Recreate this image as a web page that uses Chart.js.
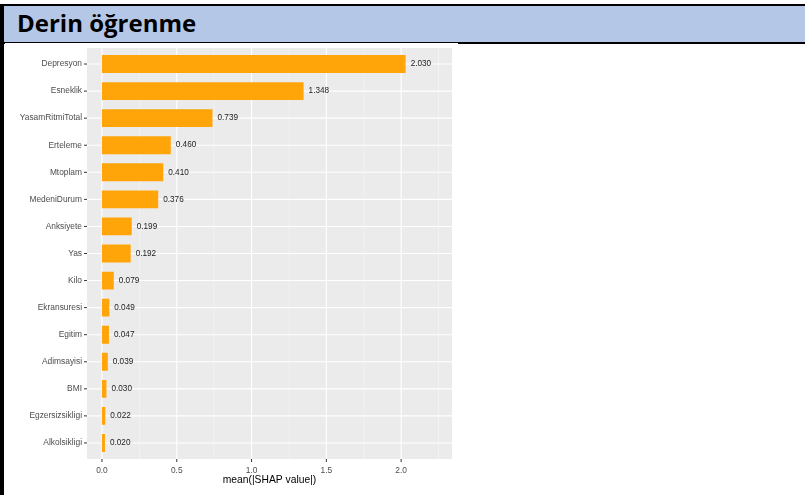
<!DOCTYPE html>
<html>
<head>
<meta charset="utf-8">
<script src="https://cdn.jsdelivr.net/npm/chart.js@4.4.1/dist/chart.umd.min.js"></script>
<style>
    body { margin: 0; background: #fff; width: 805px; height: 495px; overflow: hidden; position: relative; }
    #header {
        position: absolute; left: 0; top: 4px; width: 801px; height: 36px;
        background: #B4C7E7; border-top: 2px solid #000; border-bottom: 2px solid #000; border-left: 4px solid #000;
    }
    #title {
        position: absolute; left: 17px; top: 10.5px; margin: 0;
        font-family: "Open Sans", sans-serif; font-weight: 700; font-size: 24px; line-height: 1; color: #000;
    }
    #leftLine { position: absolute; left: 0; top: 40px; width: 4px; height: 455px; background: #000; }
    #plot { position: absolute; left: 5px; top: 43px; width: 453px; height: 452px; background: #fff; z-index: 2; }
</style>
</head>
<body>
<div id="header"></div>
<div id="title">Derin öğrenme</div>
<div id="leftLine"></div>
<div id="plot"><canvas id="shapChart" width="453" height="452"></canvas></div>
<script>
// feature importance (mean |SHAP|), top to bottom
const features = ['Depresyon', 'Esneklik', 'YasamRitmiTotal', 'Erteleme', 'Mtoplam', 'MedeniDurum', 'Anksiyete',
    'Yas', 'Kilo', 'Ekransuresi', 'Egitim', 'Adimsayisi', 'BMI', 'Egzersizsikligi', 'Alkolsikligi'];
const shapValues = [2.030, 1.348, 0.739, 0.460, 0.410, 0.376, 0.199, 0.192, 0.079, 0.049, 0.047, 0.039, 0.030, 0.022, 0.020];
const xTicks = [0, 0.5, 1, 1.5, 2];
const xMinorTicks = [0.25, 0.75, 1.25, 1.75, 2.25];

const tickFont = { family: '"Liberation Sans", Arial, sans-serif', size: 8.4 };

// ggplot-ish grey panel with grid lines and little tick marks
const panelPlugin = {
    id: 'panel',
    beforeDatasetsDraw(chart) {
        const { ctx, chartArea: a, scales: { x, y } } = chart;
        const top = a.top - 2.5, bottom = a.bottom + 2.5;
        ctx.save();
        ctx.fillStyle = '#EBEBEB';
        ctx.fillRect(a.left, top, a.right - a.left, bottom - top);

        ctx.strokeStyle = '#F7F7F7';
        ctx.lineWidth = 0.6;
        xMinorTicks.forEach(v => {
            const px = x.getPixelForValue(v);
            ctx.beginPath(); ctx.moveTo(px, top); ctx.lineTo(px, bottom); ctx.stroke();
        });

        ctx.strokeStyle = '#FFFFFF';
        ctx.lineWidth = 1.1;
        xTicks.forEach(v => {
            const px = x.getPixelForValue(v);
            ctx.beginPath(); ctx.moveTo(px, top); ctx.lineTo(px, bottom); ctx.stroke();
        });
        features.forEach((f, i) => {
            const py = y.getPixelForValue(i);
            ctx.beginPath(); ctx.moveTo(a.left, py); ctx.lineTo(a.right, py); ctx.stroke();
        });

        // tick marks
        ctx.strokeStyle = '#333333';
        ctx.lineWidth = 1;
        features.forEach((f, i) => {
            const py = y.getPixelForValue(i);
            ctx.beginPath(); ctx.moveTo(a.left - 3, py); ctx.lineTo(a.left, py); ctx.stroke();
        });
        xTicks.forEach(v => {
            const px = x.getPixelForValue(v);
            ctx.beginPath(); ctx.moveTo(px, bottom); ctx.lineTo(px, bottom + 3); ctx.stroke();
        });
        ctx.restore();
    },
    afterDatasetsDraw(chart) {
        // value labels next to each bar
        const { ctx } = chart;
        const meta = chart.getDatasetMeta(0);
        ctx.save();
        ctx.font = '8.2px "Liberation Sans", Arial, sans-serif';
        ctx.fillStyle = '#222222';
        ctx.textBaseline = 'middle';
        ctx.textAlign = 'left';
        meta.data.forEach((bar, i) => {
            ctx.fillText(shapValues[i].toFixed(3), bar.x + 5, bar.y);
        });
        ctx.restore();
    }
};

const chartCtx = document.getElementById('shapChart').getContext('2d');
const shapChart = new Chart(chartCtx, {
    type: 'bar',
    data: {
        labels: features,
        datasets: [{
            data: shapValues,
            backgroundColor: '#FFA50A',
            borderWidth: 0,
            barPercentage: 0.66,
            categoryPercentage: 1
        }]
    },
    options: {
        indexAxis: 'y',
        responsive: false,
        animation: false,
        layout: { padding: { top: 7.5, right: 6, bottom: 0, left: 0 } },
        plugins: { legend: { display: false }, tooltip: { enabled: false } },
        scales: {
            x: {
                min: -0.1,
                max: 2.34,
                border: { display: false },
                grid: { display: false, drawTicks: false },
                afterBuildTicks: scale => { scale.ticks = xTicks.map(v => ({ value: v })); },
                afterFit: scale => {
                    scale.height = 38.5;
                    scale.paddingLeft = 0;
                    scale.paddingRight = 0;
                },
                ticks: {
                    padding: 9,
                    color: '#4D4D4D',
                    font: tickFont,
                    maxRotation: 0,
                    callback: v => Number(v).toFixed(1)
                },
                title: {
                    display: true,
                    text: 'mean(|SHAP value|)',
                    color: '#000000',
                    font: { family: '"Liberation Sans", Arial, sans-serif', size: 10.3 },
                    padding: { top: 0, bottom: 8.8 }
                }
            },
            y: {
                border: { display: false },
                grid: { display: false, drawTicks: false },
                afterFit: scale => {
                    scale.width = 82;
                    scale.paddingTop = 0;
                    scale.paddingBottom = 0;
                },
                ticks: {
                    padding: 5,
                    color: '#4D4D4D',
                    font: tickFont
                }
            }
        }
    },
    plugins: [panelPlugin]
});
</script>
</body>
</html>
